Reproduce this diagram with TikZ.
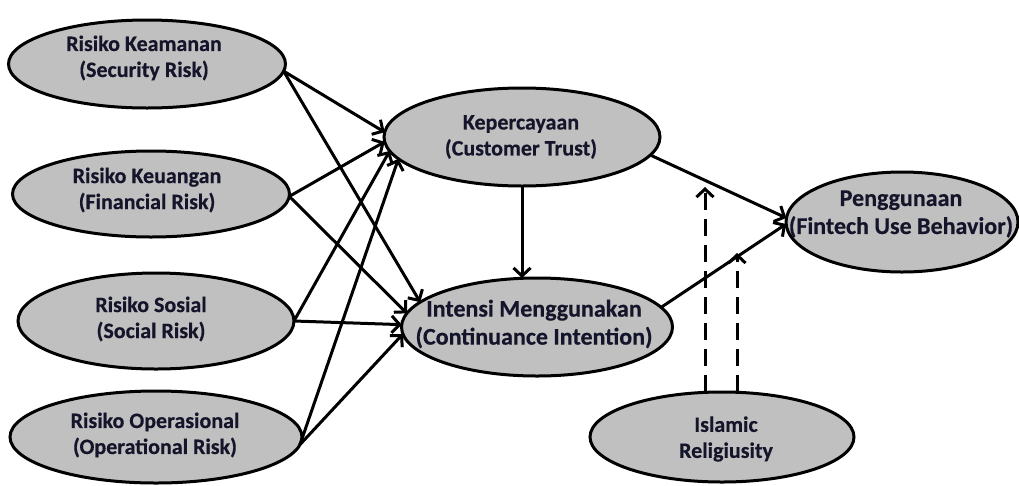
\documentclass[tikz,border=0pt]{standalone}
\usepackage{fontspec}
\setmainfont{Carlito}
\usetikzlibrary{shapes.geometric,arrows.meta}
\definecolor{ovalfill}{HTML}{C0C0C0}
\definecolor{inktext}{HTML}{14142A}
\begin{document}
\begin{tikzpicture}[x=1pt,y=-1pt,
  oval/.style={ellipse,draw=black,fill=ovalfill,line width=3pt,inner sep=0pt,outer sep=0pt},
  lbl/.style={align=center,text=inktext,font=\fontsize{22}{26}\selectfont\bfseries\addfontfeature{FakeBold=0.4},inner sep=0pt},
  biglbl/.style={lbl,font=\fontsize{24}{28}\selectfont\bfseries\addfontfeature{FakeBold=0.4}},
  arr/.style={line width=3pt,-{Straight Barb[length=8pt,width=17pt]}},
  dasharr/.style={arr,dash pattern=on 17pt off 9pt}]
\useasboundingbox (0,0) rectangle (1019,485);

% latent constructs
\node[oval,minimum width=277pt,minimum height=88pt] (sec) at (147,64) {};
\node[oval,minimum width=277pt,minimum height=86pt] (fin) at (151,194) {};
\node[oval,minimum width=276pt,minimum height=96pt] (soc) at (156,321) {};
\node[oval,minimum width=292pt,minimum height=92pt] (opr) at (156,437) {};
\node[oval,minimum width=276pt,minimum height=98pt] (trust) at (522,137) {};
\node[oval,minimum width=271pt,minimum height=98pt] (intent) at (537,327) {};
\node[oval,minimum width=232pt,minimum height=100pt] (use) at (902,222) {};
\node[oval,minimum width=264pt,minimum height=90pt] (isl) at (722,437) {};

% labels
\node[lbl] (secT) at (144,58) {Risiko Keamanan\\(Security Risk)};
\node[lbl] (finT) at (147,190) {Risiko Keuangan\\(Financial Risk)};
\node[lbl] (socT) at (151,319) {Risiko Sosial\\(Social Risk)};
\node[lbl] (oprT) at (155,435) {Risiko Operasional\\(Operational Risk)};
\node[lbl] (trustT) at (521,137) {Kepercayaan\\(Customer Trust)};
\node[biglbl] (intentT) at (534,324) {Intensi Menggunakan\\(Continuance Intention)};
\node[biglbl] (useT) at (901,214) {Penggunaan\\(Fintech Use Behavior)};
\node[lbl] (islT) at (726,439) {Islamic\\Religiusity};

% risk paths to trust
\draw[arr] (sec.-3) -- (trust.178);
\draw[arr] (fin.-1) -- (trust.182);
\draw[arr] (soc.0) -- (trust.186);
\draw[arr] (opr.-3) -- (trust.190);

% risk paths to intention
\draw[arr] (sec.-3) -- (intent.168);
\draw[arr] (fin.-1) -- (intent.174);
\draw[arr] (soc.0) -- (intent.179);
\draw[arr] (opr.-3) -- (intent.183);

% structural paths
\draw[arr] (trust.south) -- (intent.north -| trust.south);
\draw[arr] (trust.-8) -- (use.178);
\draw[arr] (intent.9) -- (use.181);

% moderation by religiosity
\coordinate (m1) at (705,187);
\coordinate (m2) at (737,253);
\draw[dasharr] (isl.north -| m1) -- (m1);
\draw[dasharr] (isl.north -| m2) -- (m2);
\end{tikzpicture}
\end{document}
